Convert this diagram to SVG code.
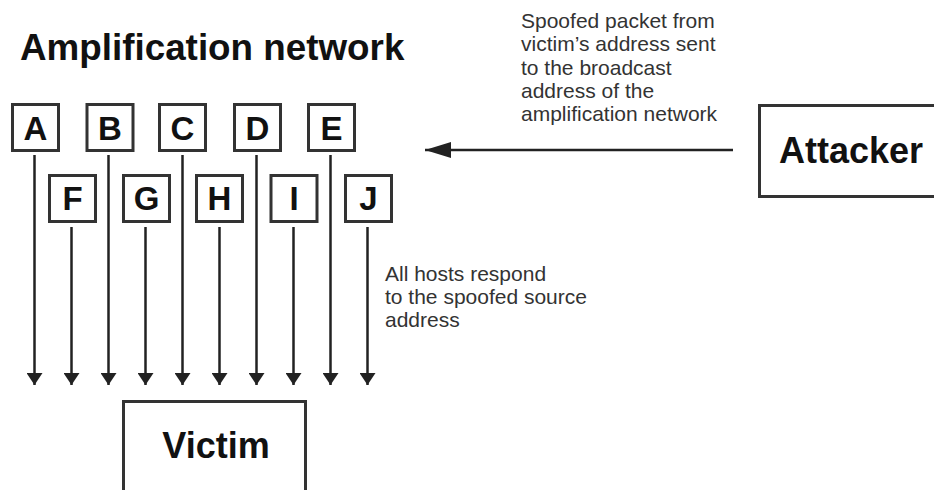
<svg xmlns="http://www.w3.org/2000/svg" width="934" height="490" viewBox="0 0 934 490">
<style>
.box{fill:#fff;stroke:#333;stroke-width:3}
.lbl{font-family:"Liberation Sans",Arial,sans-serif;font-weight:bold;font-size:33px;fill:#111;text-anchor:middle}
.big{font-family:"Liberation Sans",Arial,sans-serif;font-weight:bold;font-size:36px;fill:#111}
.note{font-family:"Liberation Sans",Arial,sans-serif;font-size:21px;fill:#333}
.edge{stroke:#222;stroke-width:2.5;fill:none}
</style>
<defs>
<marker id="ah" viewBox="0 0 12 16" refX="12" refY="8" markerWidth="12" markerHeight="16" markerUnits="userSpaceOnUse" orient="auto">
<path d="M0,0 L12,8 L0,16 Z" fill="#222"/>
</marker>
<marker id="ahL" viewBox="0 0 26 16" refX="26" refY="8" markerWidth="26" markerHeight="16" markerUnits="userSpaceOnUse" orient="auto">
<path d="M0,0 L26,8 L0,16 Z" fill="#222"/>
</marker>
</defs>
<rect width="934" height="490" fill="#fff"/>
<text class="big" x="20" y="60" style="font-size:36.8px">Amplification network</text>
<g id="nodeA"><rect class="box" x="12.5" y="104.5" width="46" height="46"/><text class="lbl" x="35.5" y="139.5">A</text></g>
<g id="nodeB"><rect class="box" x="87" y="104.5" width="46" height="46"/><text class="lbl" x="110" y="139.5">B</text></g>
<g id="nodeC"><rect class="box" x="159.5" y="104.5" width="46" height="46"/><text class="lbl" x="182.5" y="139.5">C</text></g>
<g id="nodeD"><rect class="box" x="234.5" y="104.5" width="46" height="46"/><text class="lbl" x="257.5" y="139.5">D</text></g>
<g id="nodeE"><rect class="box" x="308.5" y="104.5" width="46" height="46"/><text class="lbl" x="331.5" y="139.5">E</text></g>
<g id="nodeF"><rect class="box" x="49.5" y="175.5" width="46" height="46"/><text class="lbl" x="72.5" y="210">F</text></g>
<g id="nodeG"><rect class="box" x="123.5" y="175.5" width="46" height="46"/><text class="lbl" x="146.5" y="210">G</text></g>
<g id="nodeH"><rect class="box" x="196.5" y="175.5" width="46" height="46"/><text class="lbl" x="219.5" y="210">H</text></g>
<g id="nodeI"><rect class="box" x="271" y="175.5" width="46" height="46"/><text class="lbl" x="294" y="210">I</text></g>
<g id="nodeJ"><rect class="box" x="345.5" y="175.5" width="46" height="46"/><text class="lbl" x="368.5" y="210">J</text></g>
<g id="attacker"><rect class="box" x="759.5" y="105.5" width="200" height="91"/><text class="big" x="779" y="163">Attacker</text></g>
<g id="victim"><rect class="box" x="123.5" y="401.5" width="182" height="120"/><text class="big" x="216" y="458" text-anchor="middle">Victim</text></g>
<g id="connectors">
<line class="edge" x1="34.5" y1="155" x2="34.5" y2="385" marker-end="url(#ah)"/>
<line class="edge" x1="108.5" y1="155" x2="108.5" y2="385" marker-end="url(#ah)"/>
<line class="edge" x1="182.5" y1="155" x2="182.5" y2="385" marker-end="url(#ah)"/>
<line class="edge" x1="256.5" y1="155" x2="256.5" y2="385" marker-end="url(#ah)"/>
<line class="edge" x1="330.5" y1="155" x2="330.5" y2="385" marker-end="url(#ah)"/>
<line class="edge" x1="71.5" y1="227" x2="71.5" y2="385" marker-end="url(#ah)"/>
<line class="edge" x1="145.5" y1="227" x2="145.5" y2="385" marker-end="url(#ah)"/>
<line class="edge" x1="219.5" y1="227" x2="219.5" y2="385" marker-end="url(#ah)"/>
<line class="edge" x1="293.5" y1="227" x2="293.5" y2="385" marker-end="url(#ah)"/>
<line class="edge" x1="367.5" y1="227" x2="367.5" y2="385" marker-end="url(#ah)"/>
<line class="edge" x1="733" y1="150" x2="425" y2="150" stroke-width="3" marker-end="url(#ahL)"/>
</g>
<text class="note" x="521"><tspan x="521" y="28">Spoofed packet from</tspan><tspan x="521" y="51.3">victim’s address sent</tspan><tspan x="521" y="74.6">to the broadcast</tspan><tspan x="521" y="97.9">address of the</tspan><tspan x="521" y="121.2">amplification network</tspan></text>
<text class="note" x="385"><tspan x="385" y="281">All hosts respond</tspan><tspan x="385" y="304">to the spoofed source</tspan><tspan x="385" y="327">address</tspan></text>
</svg>
